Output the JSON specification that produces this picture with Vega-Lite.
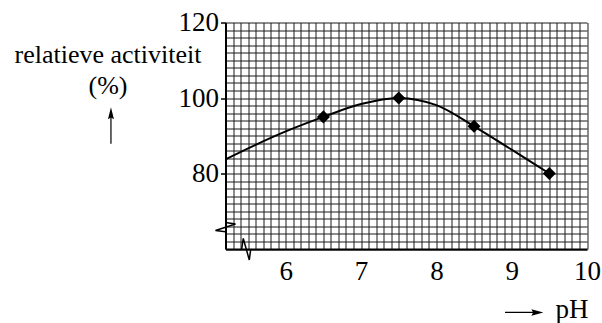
{
  "$schema": "https://vega.github.io/schema/vega-lite/v6.json",
  "width": 361.5,
  "height": 226.5,
  "autosize": "none",
  "padding": {"left": 225.5, "top": 22.5, "right": 15, "bottom": 74},
  "background": "white",
  "config": {"view": {"stroke": null}, "font": "Liberation Serif, Times New Roman, serif"},
  "resolve": {"axis": {"x": "independent", "y": "independent"}},
  "datasets": {
    "points": [
      {"ph": 6.5, "act": 95},
      {"ph": 7.5, "act": 100},
      {"ph": 8.5, "act": 92.5},
      {"ph": 9.5, "act": 80}
    ],
    "curve": [
      {"ph": 5.2, "act": 83.75},
      {"ph": 5.6, "act": 87.6},
      {"ph": 6.0, "act": 91.15},
      {"ph": 6.5, "act": 95},
      {"ph": 7.0, "act": 98.4},
      {"ph": 7.5, "act": 100},
      {"ph": 8.0, "act": 98.1},
      {"ph": 8.5, "act": 92.5},
      {"ph": 9.0, "act": 86.3},
      {"ph": 9.5, "act": 80}
    ],
    "breaks": [
      {"g": "y", "i": 0, "ph": 5.2, "act": 67.0},
      {"g": "y", "i": 1, "ph": 5.333, "act": 66.6},
      {"g": "y", "i": 2, "ph": 5.067, "act": 64.9},
      {"g": "y", "i": 3, "ph": 5.2, "act": 64.6},
      {"g": "x", "i": 0, "ph": 5.415, "act": 60},
      {"g": "x", "i": 1, "ph": 5.436, "act": 62.8},
      {"g": "x", "i": 2, "ph": 5.516, "act": 57.1},
      {"g": "x", "i": 3, "ph": 5.535, "act": 60}
    ],
    "arrows": [
      {"dir": "up", "ph": 3.679, "ph2": 3.679, "act": 87.9, "act2": 95.96},
      {"dir": "right", "ph": 8.912, "ph2": 9.341, "act": 43.19, "act2": 43.19}
    ]
  },
  "layer": [
    {
      "data": {"name": "curve"},
      "mark": {"type": "line", "interpolate": "catmull-rom", "color": "black", "strokeWidth": 2},
      "encoding": {
        "x": {
          "field": "ph", "type": "quantitative",
          "scale": {"domain": [5.2, 10], "nice": false, "zero": false},
          "axis": {
            "tickCount": 48,
            "grid": true, "gridColor": "#1a1a1a", "gridWidth": 1, "gridOpacity": 1,
            "ticks": false, "tickSize": 0,
            "domain": true, "domainColor": "black", "domainWidth": 2,
            "labelExpr": "abs(datum.value - round(datum.value)) < 0.000001 && datum.value > 5.5 ? format(datum.value, 'd') : ''",
            "labelOverlap": false, "labelFlush": false, "labelBound": false,
            "labelFont": "Liberation Serif, Times New Roman, serif", "labelFontSize": 27, "labelColor": "black",
            "labelPadding": 9,
            "title": "pH", "titleFont": "Liberation Serif, Times New Roman, serif", "titleFontSize": 27, "titleFontWeight": "normal",
            "titleColor": "black", "titleAlign": "left", "titleBaseline": "alphabetic",
            "titleX": 329.5, "titleY": 68
          }
        },
        "y": {
          "field": "act", "type": "quantitative",
          "scale": {"domain": [60, 120], "nice": false, "zero": false},
          "axis": {
            "tickCount": 30,
            "grid": true, "gridColor": "#1a1a1a", "gridWidth": 1, "gridOpacity": 1,
            "ticks": true, "tickSize": 5, "tickColor": "black", "tickWidth": 1.5,
            "tickOpacity": {"condition": {"test": "datum.value % 20 === 0 && datum.value > 60", "value": 1}, "value": 0},
            "domain": true, "domainColor": "black", "domainWidth": 2,
            "labelExpr": "datum.value % 20 === 0 && datum.value > 60 ? format(datum.value, 'd') : ''",
            "labelOverlap": false, "labelFlush": false, "labelBound": false,
            "labelFont": "Liberation Serif, Times New Roman, serif", "labelFontSize": 27, "labelColor": "black",
            "labelPadding": 2,
            "title": ["relatieve activiteit", "(%)"],
            "titleFont": "Liberation Serif, Times New Roman, serif", "titleFontSize": 26, "titleFontWeight": "normal",
            "titleColor": "black", "titleAngle": 0, "titleAlign": "center", "titleBaseline": "alphabetic",
            "titleLineHeight": 31, "titleX": -118, "titleY": 39.5
          }
        }
      }
    },
    {
      "data": {"name": "points"},
      "mark": {"type": "point", "shape": "diamond", "filled": true, "color": "black", "size": 170, "opacity": 1},
      "encoding": {
        "x": {"field": "ph", "type": "quantitative", "axis": null},
        "y": {"field": "act", "type": "quantitative", "axis": null}
      }
    },
    {
      "data": {"name": "breaks"},
      "mark": {"type": "line", "color": "black", "strokeWidth": 1.5, "clip": false},
      "encoding": {
        "x": {"field": "ph", "type": "quantitative", "axis": null},
        "y": {"field": "act", "type": "quantitative", "axis": null},
        "detail": {"field": "g"},
        "order": {"field": "i", "type": "quantitative"}
      }
    },
    {
      "data": {"name": "arrows"},
      "mark": {"type": "rule", "color": "black", "strokeWidth": 1.2, "clip": false},
      "encoding": {
        "x": {"field": "ph", "type": "quantitative", "axis": null},
        "x2": {"field": "ph2"},
        "y": {"field": "act", "type": "quantitative", "axis": null},
        "y2": {"field": "act2"}
      }
    },
    {
      "data": {"name": "arrows"},
      "mark": {"type": "point", "filled": true, "color": "black", "opacity": 1, "size": 144, "clip": false},
      "encoding": {
        "x": {"field": "ph2", "type": "quantitative", "axis": null},
        "y": {"field": "act2", "type": "quantitative", "axis": null},
        "shape": {
          "field": "dir", "type": "nominal", "legend": null,
          "scale": {"domain": ["up", "right"], "range": ["M0,-1L0.5,1L0,0.7L-0.5,1Z", "M1,0L-1,-0.55L-0.7,0L-1,0.55Z"]}
        }
      }
    }
  ]
}
